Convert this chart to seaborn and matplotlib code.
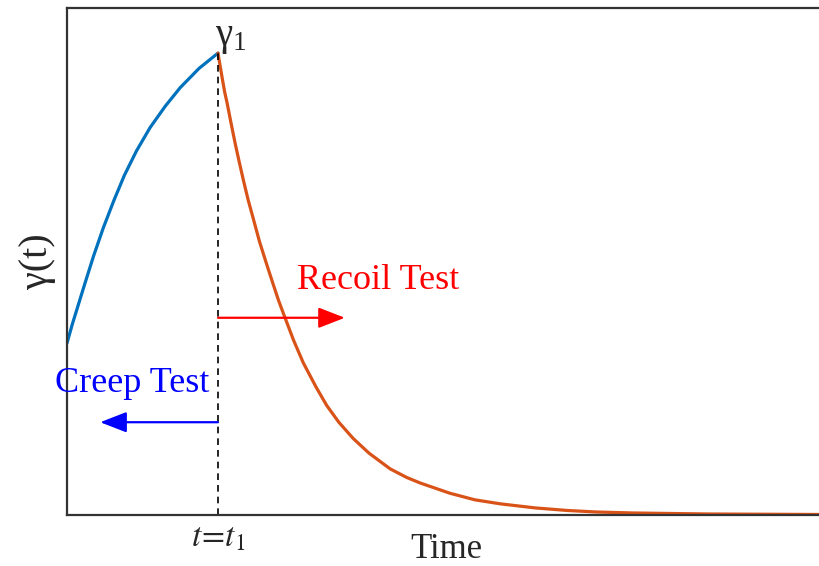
import matplotlib
matplotlib.use('Agg')
import matplotlib.pyplot as plt
import pandas as pd
import seaborn as sns

sns.set_style('white')
plt.rcParams['font.family'] = ['Liberation Serif', 'DejaVu Serif']
plt.rcParams['mathtext.fontset'] = 'stix'

# values (time in arbitrary units, t1 = 2)
t1 = 2.0
creep_t = [0.0, 0.07, 0.13, 0.24, 0.35, 0.48, 0.62, 0.76, 0.92, 1.10, 1.30, 1.50,
           1.75, 1.90, 2.0]
creep_g = [0.339, 0.376, 0.405, 0.458, 0.510, 0.566, 0.620, 0.670, 0.718, 0.764,
           0.806, 0.843, 0.881, 0.899, 0.911]
recoil_t = [2.0, 2.03, 2.06, 2.09, 2.12, 2.17, 2.23, 2.28, 2.34, 2.40, 2.47, 2.55,
            2.65, 2.72, 2.80, 2.87, 3.00, 3.13, 3.30, 3.44, 3.60, 3.79, 4.00,
            4.28, 4.50, 4.68, 5.07, 5.40, 5.74, 6.20, 6.62, 7.00, 7.50, 8.5, 10.0]
recoil_g = [0.911, 0.884, 0.858, 0.833, 0.813, 0.775, 0.731, 0.697, 0.658, 0.621,
            0.583, 0.539, 0.492, 0.460, 0.424, 0.396, 0.345, 0.300, 0.252, 0.216,
            0.183, 0.151, 0.122, 0.091, 0.074, 0.063, 0.043, 0.030, 0.022, 0.014,
            0.009, 0.006, 0.004, 0.002, 0.001]

creep = pd.DataFrame({'t': creep_t, 'g': creep_g})
recoil = pd.DataFrame({'t': recoil_t, 'g': recoil_g})

fig = plt.figure(figsize=(8.19, 5.66), dpi=100)
ax = fig.add_axes([0.0818, 0.0901, 0.9219, 0.8958])

sns.lineplot(data=creep, x='t', y='g', sort=False, color='#0072BD', lw=2.3, ax=ax)
sns.lineplot(data=recoil, x='t', y='g', sort=False, color='#D95319', lw=2.3, ax=ax)

ax.plot([t1, t1], [0, creep_g[-1]], ls='--', color='black', lw=1.2, dashes=(4, 3))

# arrows
arrow_style = '-|>,head_length=0.9,head_width=0.35'
ax.annotate('', xy=(3.68, 0.389), xytext=(t1, 0.389),
            arrowprops=dict(arrowstyle=arrow_style, color='red', lw=1.6,
                            mutation_scale=18, shrinkA=0, shrinkB=0))
ax.annotate('', xy=(0.44, 0.183), xytext=(t1, 0.183),
            arrowprops=dict(arrowstyle=arrow_style, color='blue', lw=1.6,
                            mutation_scale=18, shrinkA=0, shrinkB=0))

ax.text(4.12, 0.462, 'Recoil Test', color='red', fontsize=26, ha='center', va='center')
ax.text(0.86, 0.260, 'Creep Test', color='blue', fontsize=26, ha='center', va='center')
ax.text(t1 - 0.04, 0.905, r'$\mathregular{\gamma_1}$', fontsize=28, ha='left', va='bottom')

ax.set_xlim(0, 10)
ax.set_ylim(0, 1)
ax.set_xticks([t1])
ax.set_xticklabels([r'$t\!=\!t_1$'], fontsize=24)
ax.set_yticks([])
ax.tick_params(axis='x', length=0, pad=6)
ax.set_xlabel('Time', fontsize=25)
ax.xaxis.set_label_coords(0.503, -0.036)
ax.set_ylabel('γ(t)', fontsize=29, labelpad=8)

for s in ax.spines.values():
    s.set_color('#333333')
    s.set_linewidth(1.6)

fig.savefig('out.png', dpi=100)
